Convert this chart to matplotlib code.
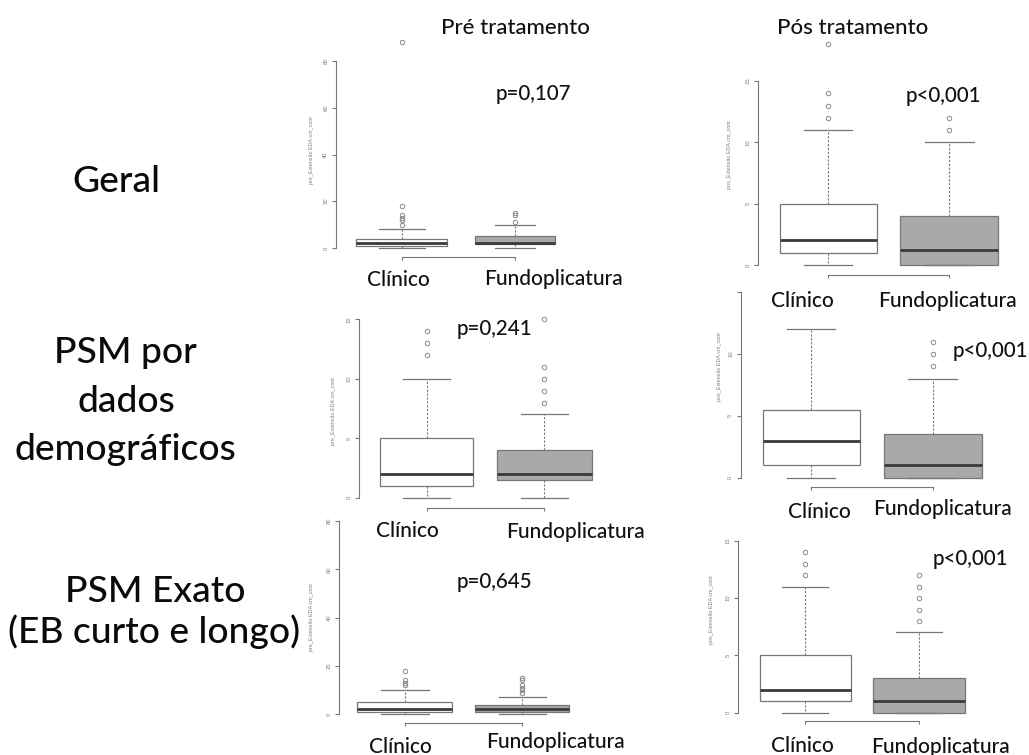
import matplotlib
matplotlib.use("Agg")
import matplotlib.pyplot as plt

W, H = 1029, 755

# ---- data -----------------------------------------------------------------
groups = ["Clínico", "Fundoplicatura"]
col_titles = ["Pré tratamento", "Pós tratamento"]
row_titles = [["Geral"], ["PSM por", "dados", "demográficos"],
              ["PSM Exato", "(EB curto e longo)"]]
p_values = ["p=0,107", "p<0,001", "p=0,241", "p<0,001", "p=0,645", "p<0,001"]
ylabels = ["pre_Extensão EDA cm_cont", "pos_Extensão EDA cm_cont"]

# box summaries per group: [lower whisker, Q1, median, Q3, upper whisker]
geral_pre_box = [[0, 1, 2, 4, 8], [0, 1.5, 2, 5, 10]]
geral_pre_fliers = [[10, 12, 13, 14, 18, 88], [11, 14, 15]]
geral_pos_box = [[0, 1, 2, 5, 11], [0, 0, 1.2, 4, 10]]
geral_pos_fliers = [[12, 13, 14, 18], [11, 12]]
demo_pre_box = [[0, 1, 2, 5, 10], [0, 1.5, 2, 4, 7]]
demo_pre_fliers = [[12, 13, 14], [8, 9, 10, 11, 15]]
demo_pos_box = [[0, 1, 3, 5.5, 12], [0, 0, 1, 3.5, 8]]
demo_pos_fliers = [[], [9, 10, 11]]
exato_pre_box = [[0, 1, 2, 5, 10], [0, 1, 2, 4, 7]]
exato_pre_fliers = [[12, 13, 14, 18], [9, 10, 11, 12, 14, 15]]
exato_pos_box = [[0, 1, 2, 5, 11], [0, 0, 1, 3, 7]]
exato_pos_fliers = [[12, 13, 14], [8, 9, 10, 11, 12]]

pre_ticks = [0, 20, 40, 60, 80]
pos_ticks = [0, 5, 10, 15]

# ---- layout (pixels) ------------------------------------------------------
# axis x, pixel of 0, pixel of top tick, box centres, box widths,
# bracket offset below 0, y-label position, p-value position
panels = [
    dict(box=geral_pre_box, fl=geral_pre_fliers, ticks=pre_ticks, yl=0,
         ax_x=336, y0=248, ytop=61, cx=[402, 515], w=[91, 80], br=9,
         lx=312, ly=150, p=(533, 100)),
    dict(box=geral_pos_box, fl=geral_pos_fliers, ticks=pos_ticks, yl=1,
         ax_x=758, y0=265, ytop=81, cx=[828, 949], w=[97, 98], br=9.5,
         lx=730, ly=155, p=(943, 101.7)),
    dict(box=demo_pre_box, fl=demo_pre_fliers, ticks=pos_ticks, yl=0,
         ax_x=359, y0=497.7, ytop=319.3, cx=[426.7, 544.3], w=[93, 95], br=10.6,
         lx=333, ly=411, p=(494, 335)),
    dict(box=demo_pos_box, fl=demo_pos_fliers, ticks=pos_ticks, yl=1,
         ax_x=740.7, y0=477.7, ytop=292.2, cx=[811, 932.5], w=[97, 98], br=9.6,
         lx=720, ly=367, p=(990, 356.7), hide_top=True),
    dict(box=exato_pre_box, fl=exato_pre_fliers, ticks=pre_ticks, yl=0,
         ax_x=339.3, y0=714.3, ytop=521, cx=[405, 522.3], w=[95, 94], br=8.4,
         lx=311.7, ly=616.7, p=(494, 588.3)),
    dict(box=exato_pos_box, fl=exato_pos_fliers, ticks=pos_ticks, yl=1,
         ax_x=738.3, y0=712.7, ytop=540.7, cx=[805, 919], w=[91, 92], br=8.3,
         lx=711.7, ly=610, p=(970, 565)),
]

# category label positions (centre x, baseline y)
cat_pos = [
    [(398, 286.5), (553, 285.5)],
    [(802, 306.7), (947, 306.7)],
    [(407, 536.7), (575, 538)],
    [(819, 518.3), (942, 515)],
    [(400, 753), (555.5, 748.3)],
    [(802, 751.7), (940, 753)],
]

EDGE = "#777777"
FILL = ["white", "#a9a9a9"]
FONT = "Lato"
WEIGHT = "medium"

fig = plt.figure(figsize=(W / 100, H / 100), dpi=100)
fig.patch.set_facecolor("white")


def fy(py):
    return 1 - py / H


for i, pn in enumerate(panels):
    top_val = pn["ticks"][-1]
    scale = (pn["y0"] - pn["ytop"]) / top_val
    lo = -pn["br"] / scale
    hi = top_val * 1.02
    right = pn["cx"][1] + 70
    bottom_px = pn["y0"] - lo * scale
    top_px = pn["y0"] - hi * scale
    ax = fig.add_axes([pn["ax_x"] / W, fy(bottom_px),
                       (right - pn["ax_x"]) / W, (bottom_px - top_px) / H])
    ax.set_xlim(pn["ax_x"], right)
    ax.set_ylim(lo, hi)
    ax.patch.set_alpha(0)

    stats = []
    for g in range(2):
        wl, q1, med, q3, wh = pn["box"][g]
        stats.append(dict(whislo=wl, q1=q1, med=med, q3=q3, whishi=wh,
                          fliers=pn["fl"][g]))
    art = ax.bxp(stats, positions=pn["cx"], widths=pn["w"], patch_artist=True,
                 manage_ticks=False,
                 boxprops=dict(edgecolor=EDGE, linewidth=0.9),
                 whiskerprops=dict(color=EDGE, linewidth=0.8,
                                   linestyle=(0, (2, 1.5))),
                 capprops=dict(color=EDGE, linewidth=0.9),
                 medianprops=dict(color="#3a3a3a", linewidth=2.0,
                                  solid_capstyle="butt"),
                 flierprops=dict(marker="o", markerfacecolor="none",
                                 markeredgecolor="#8a8a8a", markersize=3.2,
                                 markeredgewidth=0.7))
    for b, c in zip(art["boxes"], FILL):
        b.set_facecolor(c)
    for f in art["fliers"]:
        f.set_clip_on(False)

    for s in ("top", "right"):
        ax.spines[s].set_visible(False)
    ax.spines["left"].set_bounds(0, top_val)
    ax.spines["left"].set_color(EDGE)
    ax.spines["left"].set_linewidth(0.8)
    ax.spines["bottom"].set_bounds(pn["cx"][0], pn["cx"][1])
    ax.spines["bottom"].set_color(EDGE)
    ax.spines["bottom"].set_linewidth(0.8)

    ax.set_xticks(pn["cx"])
    ax.set_xticklabels([])
    ax.tick_params(axis="x", direction="out", length=2.2, width=0.8,
                   color=EDGE)
    ax.set_yticks(pn["ticks"])
    labels = [str(t) for t in pn["ticks"]]
    if pn.get("hide_top"):
        labels[-1] = ""
    ax.set_yticklabels(labels, rotation=90, va="center",
                       fontsize=4.2, color="#808080", family="Liberation Sans")
    ax.tick_params(axis="y", direction="out", length=3, width=0.8,
                   color=EDGE, pad=2.5)

    fig.text(pn["lx"] / W, fy(pn["ly"]), ylabels[pn["yl"]], rotation=90,
             ha="center", va="center", fontsize=3.9, color="#808080",
             family="Liberation Sans")

    px, py = pn["p"]
    fig.text(px / W, fy(py), p_values[i], ha="center", va="baseline",
             fontsize=14.8, color="#111111", family=FONT, weight=WEIGHT)

    for g in range(2):
        cx, cy = cat_pos[i][g]
        fig.text(cx / W, fy(cy), groups[g], ha="center", va="baseline",
                 fontsize=15, color="#111111", family=FONT, weight=WEIGHT,
                 bbox=dict(facecolor="white", edgecolor="none", pad=3))

# column titles
fig.text(515.8 / W, fy(34.3), col_titles[0], ha="center", va="baseline",
         fontsize=16, color="#111111", family=FONT, weight=WEIGHT)
fig.text(853 / W, fy(34.3), col_titles[1], ha="center", va="baseline",
         fontsize=16, color="#111111", family=FONT, weight=WEIGHT)

# row titles (centre x, baseline y for each line)
row_pos = [[(116.5, 191.7)],
           [(125.5, 363.3), (126.7, 411.7), (125, 460)],
           [(155, 601.7), (154, 643)]]
for lines, poss in zip(row_titles, row_pos):
    for txt, (x, y) in zip(lines, poss):
        fig.text(x / W, fy(y), txt, ha="center", va="baseline",
                 fontsize=26.8, color="#0a0a0a", family=FONT, weight=WEIGHT)

fig.savefig("out.png", dpi=100, facecolor="white")
